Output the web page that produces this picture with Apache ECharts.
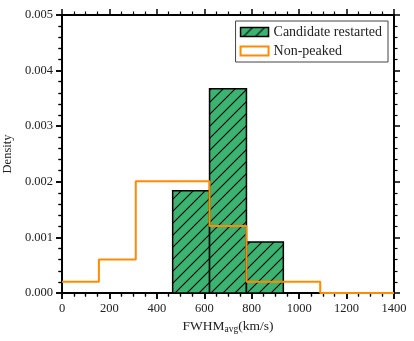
<!DOCTYPE html>
<html><head><meta charset="utf-8">
<script src="https://cdn.jsdelivr.net/npm/echarts@6/dist/echarts.min.js"></script>
<style>html,body{margin:0;padding:0;background:#fff}#c{width:414px;height:341px}</style>
</head><body><div id="c"></div>
<script>
// bin edges (km/s)
const binEdges = [0, 155.56, 311.11, 466.67, 622.22, 777.78, 933.33, 1088.89, 1244.44, 1400];
// Candidate restarted: density per bin
const restartedBins = [[466.67, 622.22], [622.22, 777.78], [777.78, 933.33]];
const restartedDensity = [0.001837, 0.003673, 0.000918];
// Non-peaked: density for each bin in binEdges
const nonPeakedDensity = [0.000201, 0.000603, 0.002009, 0.002009, 0.001205, 0.000201, 0.000201, 0, 0];
const xTicks = [0, 200, 400, 600, 800, 1000, 1200, 1400];
const yTicks = [0, 0.001, 0.002, 0.003, 0.004, 0.005];

const GREEN = '#3cb371', ORANGE = '#ff8c00';
const FONT = 'Liberation Serif';
const GRID = {left: 62, right: 20, top: 15, bottom: 48};
const W = 414, H = 341;

function hatch(){
  const s = 12, c = document.createElement('canvas');
  c.width = s; c.height = s;
  const g = c.getContext('2d');
  g.fillStyle = GREEN; g.fillRect(0,0,s,s);
  g.strokeStyle = '#000'; g.lineWidth = 1.1;
  g.beginPath();
  g.moveTo(-2, s+2); g.lineTo(s+2, -2);
  g.moveTo(-2, 2); g.lineTo(2, -2);
  g.moveTo(s-2, s+2); g.lineTo(s+2, s-2);
  g.stroke();
  return {image: c, repeat: 'repeat'};
}
const pat = hatch();

const stepData = nonPeakedDensity.map((v,i)=>[binEdges[i], v]);
stepData.push([binEdges[binEdges.length-1], 0]);

const barData = restartedBins.map((b,i)=>[b[0], b[1], restartedDensity[i]]);

// axes that draw the frame line and the ticks
function tickAxis(isX, position, offset, flip){
  const s = flip ? -1 : 1;
  return {
    type: 'value', position: position, offset: offset || 0,
    min: isX ? xTicks[0] : yTicks[0],
    max: isX ? xTicks[xTicks.length-1] : yTicks[yTicks.length-1],
    interval: isX ? xTicks[1]-xTicks[0] : yTicks[1]-yTicks[0],
    axisLine: {show: true, onZero: false, lineStyle: {color: '#000', width: 2}},
    axisTick: {show: true, length: 6 * s, lineStyle: {color: '#000', width: 1.5}},
    minorTick: {show: true, splitNumber: isX ? 4 : 5, length: 3.5 * s, lineStyle: {color: '#000', width: 1.2}},
    splitLine: {show: false},
    minorSplitLine: {show: false},
    axisLabel: {show: false}
  };
}
// axes that carry only tick labels and the axis title
function labelAxis(isX, position){
  return {
    type: 'value', position: position,
    min: isX ? xTicks[0] : yTicks[0],
    max: isX ? xTicks[xTicks.length-1] : yTicks[yTicks.length-1],
    interval: isX ? xTicks[1]-xTicks[0] : yTicks[1]-yTicks[0],
    axisLine: {show: false, onZero: false},
    axisTick: {show: false},
    minorTick: {show: false},
    splitLine: {show: false},
    axisLabel: {show: true, fontFamily: FONT, fontSize: 12.5, color: '#222', margin: 9,
      formatter: isX ? (v => String(v)) : (v => v.toFixed(3))}
  };
}

const xLab = labelAxis(true, 'bottom');
xLab.name = '{a|FWHM}{s|avg}{a|(km/s)}';
xLab.nameLocation = 'middle';
xLab.nameGap = 25;
xLab.nameTextStyle = {rich: {
  a: {fontFamily: FONT, fontSize: 13.5, color: '#222', lineHeight: 16},
  s: {fontFamily: FONT, fontSize: 9.5, color: '#222', lineHeight: 16, verticalAlign: 'bottom', padding: [5, 0, 0, 0]}
}};
const yLab = labelAxis(false, 'left');
yLab.name = 'Density';
yLab.nameLocation = 'middle';
yLab.nameGap = 46;
yLab.nameTextStyle = {fontFamily: FONT, fontSize: 12.5, color: '#222'};

const plotH = H - GRID.top - GRID.bottom;
const plotW = W - GRID.left - GRID.right;

const chart = echarts.init(document.getElementById('c'));
chart.setOption({
  animation: false,
  backgroundColor: '#fff',
  grid: Object.assign({containLabel: false, outerBoundsMode: 'none'}, GRID),
  legend: {
    right: 26, top: 21, orient: 'vertical',
    backgroundColor: '#fff', borderColor: '#444', borderWidth: 1,
    padding: [4, 6, 4, 4], itemGap: 5, itemWidth: 28, itemHeight: 9,
    textStyle: {fontFamily: FONT, fontSize: 14, color: '#222'},
    data: [
      {name: 'Candidate restarted', icon: 'rect', itemStyle: {color: pat, borderColor: '#000', borderWidth: 1.5}},
      {name: 'Non-peaked', icon: 'rect', itemStyle: {color: '#fff', borderColor: ORANGE, borderWidth: 2}}
    ]
  },
  xAxis: [
    xLab,
    tickAxis(true, 'bottom'),
    tickAxis(true, 'top'),
    tickAxis(true, 'top', -plotH, true)
  ],
  yAxis: [
    yLab,
    tickAxis(false, 'left'),
    tickAxis(false, 'right'),
    tickAxis(false, 'right', -plotW, true)
  ],
  series: [
    {
      name: 'Candidate restarted', type: 'custom', z: 2,
      xAxisIndex: 0, yAxisIndex: 0,
      itemStyle: {color: pat},
      data: barData,
      encode: {x: [0, 1], y: 2},
      renderItem: function(params, api){
        const p0 = api.coord([api.value(0), api.value(2)]);
        const p1 = api.coord([api.value(1), 0]);
        return {type: 'rect', shape: {x: p0[0], y: p0[1], width: p1[0]-p0[0], height: p1[1]-p0[1]},
          style: {fill: pat, stroke: '#000', lineWidth: 1.5}};
      }
    },
    {
      name: 'Non-peaked', type: 'line', step: 'end', z: 3,
      xAxisIndex: 0, yAxisIndex: 0,
      data: stepData, showSymbol: false, symbol: 'none',
      lineStyle: {color: ORANGE, width: 2},
      itemStyle: {color: ORANGE}
    }
  ]
});
</script></body></html>
